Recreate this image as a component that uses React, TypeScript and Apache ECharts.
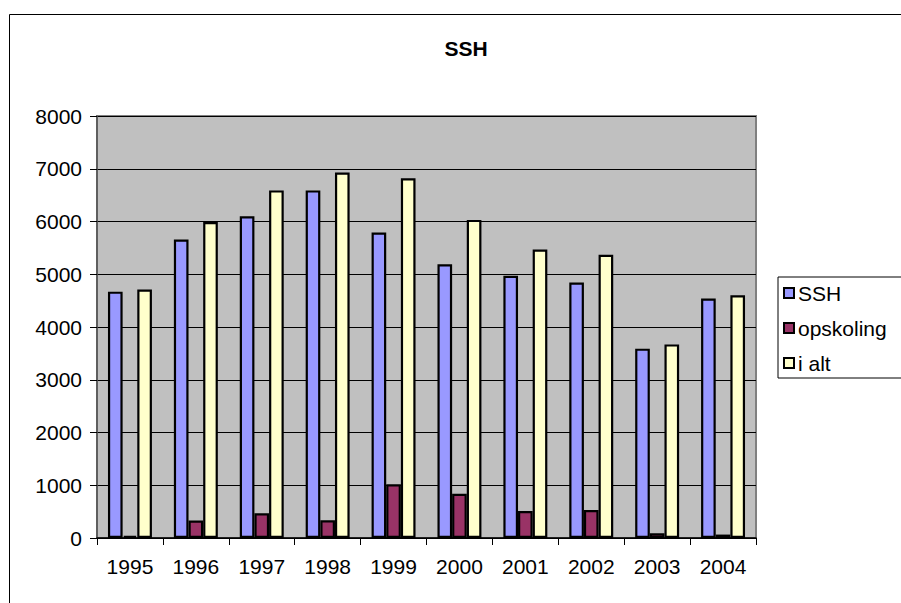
import React, { useEffect, useRef } from "react";
import * as echarts from "echarts";

const years = ["1995", "1996", "1997", "1998", "1999", "2000", "2001", "2002", "2003", "2004"];
const ssh = [4670, 5660, 6100, 6590, 5790, 5190, 4970, 4845, 3590, 4540];
const opskoling = [40, 330, 470, 335, 1020, 840, 510, 530, 90, 65];
const iAlt = [4710, 5990, 6590, 6930, 6820, 6030, 5470, 5370, 3670, 4600];

const FONT = "'Liberation Sans', Arial, sans-serif";

export default function App() {
  const ref = useRef<HTMLDivElement>(null);
  useEffect(() => {
    document.body.style.margin = "0";
    const chart = echarts.init(ref.current!, null, { renderer: "svg" });
    const barStyle = (color: string) => ({ color, borderColor: "#000", borderWidth: 2.2 });
    chart.setOption({
      animation: false,
      backgroundColor: "#fff",
      textStyle: { fontFamily: FONT },
      title: {
        text: "SSH",
        left: 461,
        top: 33,
        textAlign: "center",
        textStyle: { fontFamily: FONT, fontSize: 21, fontWeight: "bold", color: "#000" },
      },
      graphic: [
        {
          type: "rect",
          shape: { x: 9.5, y: 14.5, width: 1000, height: 1000 },
          style: { fill: "none", stroke: "#000", lineWidth: 1 },
          silent: true,
        },
      ],
      legend: {
        orient: "vertical",
        left: 778,
        top: 277,
        padding: [4, 40, 3, 5],
        borderColor: "#000",
        borderWidth: 1,
        itemWidth: 10,
        itemHeight: 10,
        itemGap: 11,
        icon: "rect",
        textStyle: { fontFamily: FONT, fontSize: 21, lineHeight: 24, color: "#000", padding: [0, 0, 0, -1] },
        data: ["SSH", "opskoling", "i alt"],
      },
      grid: {
        left: 97,
        right: 145,
        top: 116,
        bottom: 65,
        show: true,
        backgroundColor: "#C0C0C0",
        borderColor: "#808080",
        borderWidth: 2,
      },
      xAxis: {
        type: "category",
        data: years,
        axisLine: { show: true, lineStyle: { color: "#000", width: 1.5 } },
        axisTick: { show: true, length: 7, lineStyle: { color: "#000" } },
        axisLabel: { fontFamily: FONT, fontSize: 21, color: "#000", margin: 18 },
      },
      yAxis: {
        type: "value",
        min: 0,
        max: 8000,
        interval: 1000,
        axisLine: { show: true, lineStyle: { color: "#555", width: 1.5 } },
        axisTick: { show: true, length: 7, lineStyle: { color: "#000" } },
        axisLabel: {
          fontFamily: FONT,
          fontSize: 21,
          color: "#000",
          margin: 15,
          formatter: (v: number) => String(v),
        },
        splitLine: { show: true, lineStyle: { color: "#000", width: 1 } },
      },
      series: [
        { name: "SSH", type: "bar", data: ssh, barGap: "0%", barCategoryGap: "33.3%", itemStyle: barStyle("#9999FF") },
        { name: "opskoling", type: "bar", data: opskoling, barGap: "0%", barCategoryGap: "33.3%", itemStyle: barStyle("#993366") },
        { name: "i alt", type: "bar", data: iAlt, barGap: "0%", barCategoryGap: "33.3%", itemStyle: barStyle("#FFFFCC") },
      ],
    });
    return () => chart.dispose();
  }, []);
  return <div ref={ref} style={{ width: 901, height: 603 }} />;
}
